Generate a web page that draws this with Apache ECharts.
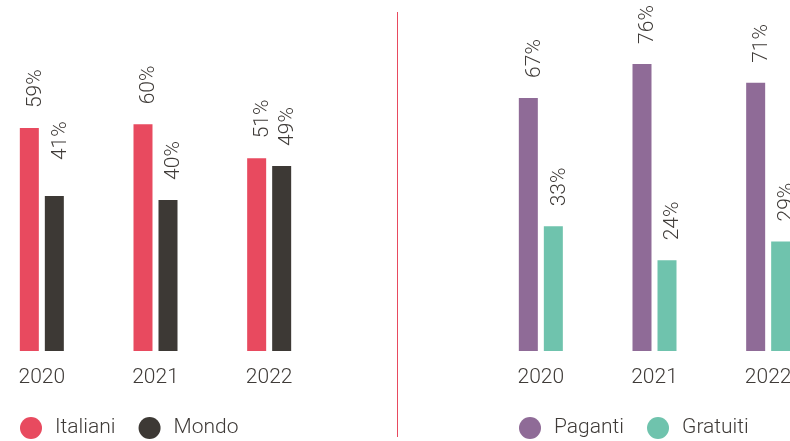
<!DOCTYPE html>
<html>
<head>
<meta charset="utf-8">
<script src="https://cdn.jsdelivr.net/npm/echarts@6/dist/echarts.min.js"></script>
<style>
  html, body { margin: 0; padding: 0; background: #ffffff; }
  #chart { width: 790px; height: 441px; }
</style>
</head>
<body>
<div id="chart"></div>
<script>
// Years shown on both panels
const years = ['2020', '2021', '2022'];

// Left panel: share of users, Italian vs worldwide (%)
const italiani = [59, 60, 51];
const mondo = [41, 40, 49];

// Right panel: paid vs free (%)
const paganti = [67, 76, 71];
const gratuiti = [33, 24, 29];

const TEXT = '#3f3b38';
const FONT = 'Roboto';
const WEIGHT = 300;
const LABEL_GAP = 20;

const chart = echarts.init(document.getElementById('chart'), null, { renderer: 'canvas' });

// extraGap: optional per-index extra distance for a value label
function barSeries(name, values, color, axisIdx, extraGap) {
  return {
    name: name,
    type: 'bar',
    xAxisIndex: axisIdx,
    yAxisIndex: axisIdx,
    barWidth: 19,
    barGap: '31.6%',
    itemStyle: { color: color },
    label: {
      show: true,
      position: 'top',
      distance: LABEL_GAP,
      rotate: 90,
      align: 'left',
      verticalAlign: 'middle',
      offset: [0, 6],
      formatter: '{c}%',
      color: TEXT,
      fontFamily: FONT,
      fontWeight: WEIGHT,
      fontSize: 21
    },
    data: values.map(function (v, i) {
      const extra = extraGap && extraGap[i];
      return extra ? { value: v, label: { distance: LABEL_GAP + extra } } : v;
    })
  };
}

function catAxis(idx) {
  return {
    type: 'category',
    gridIndex: idx,
    data: years,
    axisLine: { show: false },
    axisTick: { show: false },
    axisLabel: { color: TEXT, fontFamily: FONT, fontWeight: WEIGHT, fontSize: 21, margin: 16 }
  };
}

function valAxis(idx) {
  return {
    type: 'value',
    gridIndex: idx,
    min: 0,
    max: 90,
    show: false,
    splitLine: { show: false }
  };
}

function legend(names, left) {
  return {
    data: names,
    left: left,
    top: 417,
    padding: 0,
    icon: 'circle',
    itemWidth: 22,
    itemHeight: 22,
    itemGap: 23,
    textStyle: { color: TEXT, fontFamily: FONT, fontWeight: WEIGHT, fontSize: 21, padding: [0, 0, 0, 8] }
  };
}

chart.setOption({
  animation: false,
  grid: [
    { left: -15, width: 341, top: 11, bottom: 90, outerBoundsMode: 'none', containLabel: false },
    { left: 484, width: 341, top: 11, bottom: 90, outerBoundsMode: 'none', containLabel: false }
  ],
  xAxis: [catAxis(0), catAxis(1)],
  yAxis: [valAxis(0), valAxis(1)],
  legend: [legend(['Italiani', 'Mondo'], 20), legend(['Paganti', 'Gratuiti'], 519)],
  graphic: [{
    type: 'line',
    shape: { x1: 397.5, y1: 12, x2: 397.5, y2: 437 },
    style: { stroke: '#e84a5f', lineWidth: 1 }
  }],
  series: [
    barSeries('Italiani', italiani, '#e84a5f', 0),
    barSeries('Mondo', mondo, '#3d3935', 0, { 0: 16 }),
    barSeries('Paganti', paganti, '#8f6b97', 1),
    barSeries('Gratuiti', gratuiti, '#6fc3ad', 1)
  ]
});
</script>
</body>
</html>
